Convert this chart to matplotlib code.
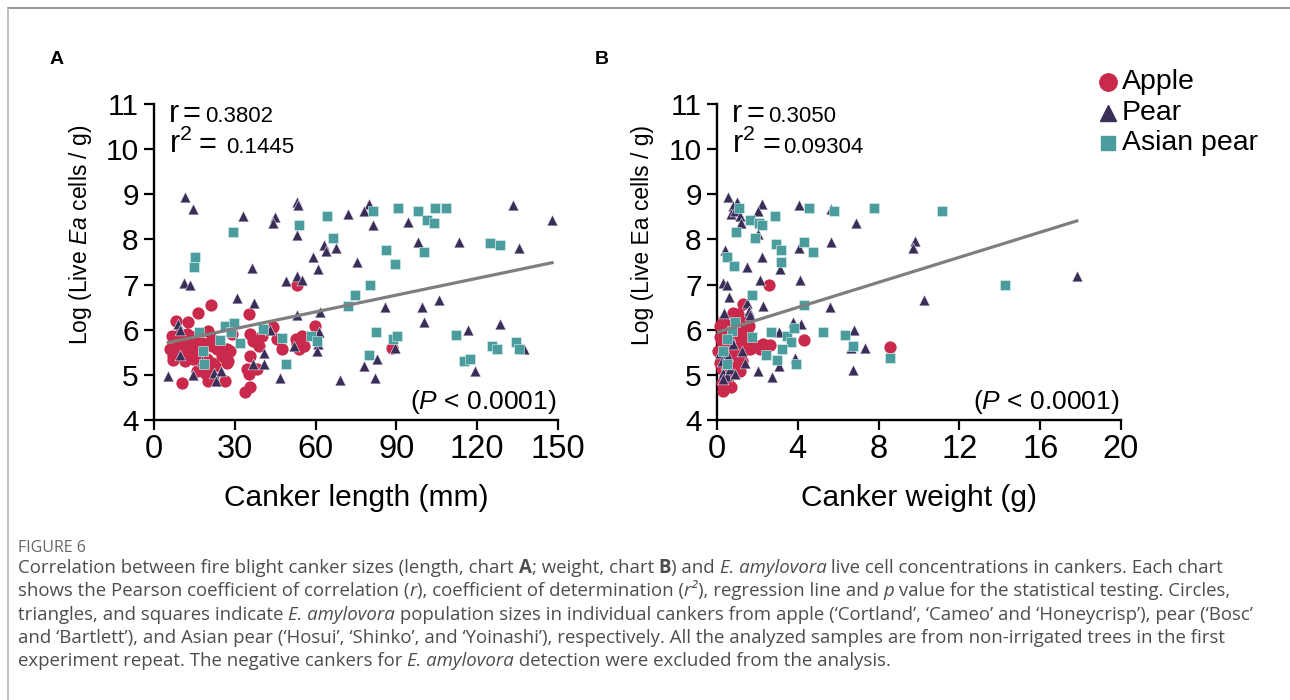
import matplotlib
matplotlib.use("Agg")
import matplotlib.pyplot as plt
from matplotlib.lines import Line2D
from matplotlib.transforms import IdentityTransform
import numpy as np

plt.rcParams['font.family'] = ['Liberation Sans', 'DejaVu Sans']
plt.rcParams['mathtext.fontset'] = 'custom'
plt.rcParams['mathtext.rm'] = 'Liberation Sans'
plt.rcParams['mathtext.it'] = 'Liberation Sans:italic'

# ---- panel A : canker length (mm) vs log live cells ----
apple_len = [21.2, 16.5, 35.4, 8.2, 12.8, 6.8, 12.1, 20.2, 28.9, 35.7, 44.0, 40.0, 36.9, 38.8,
             45.6, 47.5, 52.7, 54.9, 53.0, 55.8, 59.9, 53.9, 27.0, 28.3, 35.7, 27.6, 27.0, 34.4,
             38.2, 35.1, 35.7, 33.8, 10.4, 15.9, 20.2, 21.4, 26.4, 17.7, 14.6, 11.5, 7.2, 6.9,
             20.8, 19.0, 22.7, 8.4, 10.3, 13.4, 15.2, 17.1, 19.0, 21.4, 23.3, 25.2, 10.9, 9.7,
             14.6, 17.1, 21.4, 23.9, 5.9, 9.0, 12.1, 15.9, 19.6, 21.4, 13.4, 53.0, 88.4]
apple_len_log = [6.55, 6.36, 6.34, 6.20, 6.16, 5.86, 5.90, 5.97, 5.90, 5.90, 6.06, 5.86, 5.75, 5.64,
                 5.79, 5.58, 5.79, 5.86, 5.68, 5.63, 6.08, 5.57, 5.58, 5.53, 5.42, 5.31, 5.26, 5.14,
                 5.13, 5.01, 4.72, 4.61, 4.83, 5.09, 4.87, 4.92, 4.87, 5.31, 5.35, 5.31, 5.42, 5.33,
                 5.16, 5.05, 5.20, 5.64, 5.61, 5.61, 5.57, 5.64, 5.68, 5.64, 5.57, 5.42, 5.75, 5.90,
                 5.72, 5.75, 5.79, 5.72, 5.57, 5.53, 5.46, 5.42, 5.35, 5.27, 5.86, 6.99, 5.59]

pear_len = [11.5, 14.4, 33.0, 45.0, 44.0, 53.0, 53.4, 53.0, 72.2, 79.7, 78.1, 81.3, 94.3, 98.0,
            113.4, 133.2, 147.8, 135.4, 63.2, 63.8, 67.7, 59.2, 60.8, 75.3, 36.3, 53.0, 54.9, 48.9,
            11.2, 13.4, 31.0, 37.3, 53.0, 61.7, 85.6, 99.5, 105.7, 100.1, 128.4, 116.5, 9.0, 9.7,
            43.1, 61.1, 52.0, 60.8, 60.7, 89.6, 137.3, 41.0, 9.7, 17.7, 36.6, 41.0, 82.8, 77.8,
            119.3, 5.3, 14.4, 22.1, 24.8, 22.9, 46.6, 69.1, 82.2]
pear_len_log = [8.93, 8.67, 8.52, 8.50, 8.37, 8.82, 8.76, 8.10, 8.57, 8.79, 8.63, 8.31, 8.39, 7.95,
                7.94, 8.76, 8.42, 7.80, 7.87, 7.75, 7.81, 7.61, 7.34, 7.50, 7.37, 7.18, 7.10, 7.08,
                7.03, 6.99, 6.70, 6.59, 6.32, 6.39, 6.51, 6.51, 6.65, 6.16, 6.12, 5.99, 6.12, 6.00,
                5.99, 5.94, 5.64, 5.68, 5.53, 5.59, 5.58, 5.49, 5.44, 5.31, 5.25, 5.24, 5.36, 5.20,
                5.09, 4.98, 5.00, 5.05, 5.09, 4.87, 4.93, 4.89, 4.94]

asian_len = [29.5, 15.2, 14.7, 53.7, 64.2, 66.4, 81.3, 90.5, 98.0, 101.4, 103.8, 104.2, 108.4,
             86.1, 100.1, 89.6, 124.9, 128.6, 80.3, 74.7, 72.0, 16.7, 26.4, 29.7, 28.6, 24.5, 18.3,
             18.7, 32.0, 40.6, 47.5, 49.1, 58.4, 60.5, 82.5, 88.7, 90.2, 79.7, 112.1, 125.5, 127.4,
             115.0, 117.2, 134.4, 135.4]
asian_len_log = [8.17, 7.62, 7.40, 8.32, 8.51, 8.03, 8.62, 8.70, 8.63, 8.43, 8.36, 8.70, 8.70,
                 7.77, 7.72, 7.46, 7.93, 7.87, 6.99, 6.76, 6.53, 5.94, 6.08, 6.14, 5.94, 5.77, 5.53,
                 5.24, 5.70, 6.01, 5.81, 5.24, 5.86, 5.75, 5.96, 5.79, 5.85, 5.44, 5.88, 5.63, 5.57,
                 5.31, 5.35, 5.73, 5.57]

# ---- panel B : canker weight (g) vs log live cells ----
apple_wt = [0.15, 0.40, 0.65, 1.23, 1.47, 1.14, 1.31, 1.47, 1.06, 0.81, 0.65, 0.40, 0.15, 0.89,
            1.23, 0.23, 0.56, 0.81, 1.64, 1.80, 1.97, 2.30, 1.31, 0.98, 0.48, 0.23, 0.31, 0.07,
            0.23, 0.56, 1.14, 1.56, 1.31, 0.81, 0.73, 1.06, 0.40, 0.15, 0.65, 2.55, 4.29, 8.56,
            1.31, 0.81, 1.06, 0.31, 0.31, 0.70, 2.63, 2.14, 1.14]
apple_wt_log = [6.08, 6.01, 6.08, 6.08, 5.94, 5.86, 5.75, 5.68, 5.64, 5.57, 5.46, 5.38, 5.27, 5.31,
                5.31, 5.13, 5.05, 5.20, 5.57, 5.61, 5.64, 5.68, 5.53, 5.46, 5.64, 5.72, 5.86, 5.53,
                4.83, 4.83, 6.08, 6.08, 6.19, 6.12, 5.72, 5.16, 5.20, 5.83, 5.83, 6.99, 5.77, 5.61,
                6.56, 6.38, 6.34, 6.19, 4.65, 4.74, 5.66, 5.57, 5.09]

pear_wt = [0.56, 0.98, 2.25, 4.04, 5.66, 0.78, 0.68, 0.89, 1.14, 1.18, 2.05, 2.14, 2.05, 6.89,
           5.65, 4.07, 9.78, 9.70, 0.40, 2.22, 1.47, 3.10, 0.31, 0.51, 2.14, 4.09, 0.61, 1.47,
           2.30, 1.56, 1.64, 5.61, 10.25, 17.81, 3.76, 4.16, 0.36, 3.08, 6.77, 0.65, 0.78, 6.61,
           7.35, 0.15, 1.39, 3.08, 2.05, 3.87, 2.72, 6.72, 0.31, 0.48, 0.65, 0.89, 0.31, 0.45,
           0.23, 0.56, 1.23]
pear_wt_log = [8.93, 8.82, 8.79, 8.76, 8.67, 8.74, 8.56, 8.63, 8.52, 8.37, 8.63, 8.37, 8.11, 8.37,
               7.94, 7.82, 7.97, 7.80, 7.77, 7.60, 7.38, 7.34, 7.04, 6.99, 7.10, 7.10, 6.73, 6.60,
               6.53, 6.42, 6.32, 6.51, 6.65, 7.18, 6.18, 6.12, 6.37, 5.95, 6.00, 5.86, 5.68, 5.59,
               5.59, 5.49, 5.26, 5.20, 5.09, 5.38, 4.96, 5.10, 5.05, 4.98, 5.13, 5.01, 4.90, 5.24,
               5.31, 5.42, 5.53]

asian_wt = [1.11, 4.57, 5.78, 7.76, 11.16, 1.64, 2.10, 2.22, 2.85, 0.94, 1.89, 2.93, 3.18, 4.32,
            4.75, 0.48, 3.18, 0.86, 1.75, 4.32, 14.27, 0.89, 0.72, 0.51, 1.72, 0.31, 0.48, 2.67,
            3.46, 3.79, 3.68, 3.21, 2.42, 2.96, 3.91, 5.25, 6.36, 6.74, 8.56]
asian_wt_log = [8.70, 8.70, 8.63, 8.70, 8.63, 8.43, 8.37, 8.32, 8.52, 8.17, 8.04, 7.89, 7.77, 7.94,
                7.73, 7.62, 7.49, 7.41, 6.77, 6.55, 6.99, 6.16, 5.97, 5.79, 5.84, 5.53, 5.25, 5.95,
                5.86, 6.03, 5.72, 5.57, 5.44, 5.32, 5.25, 5.96, 5.89, 5.64, 5.37]

# regression lines (slope, intercept) and stats as reported
fit_A = (0.01241, 5.65)
fit_B = (0.1387, 5.94)
stats_A = ('0.3802', '0.1445')
stats_B = ('0.3050', '0.09304')

red = '#C92A4B'
navy = '#3A2E59'
teal = '#4B9C9D'

W, H = 1290, 700
fig = plt.figure(figsize=(W / 100, H / 100), dpi=100)
PIX = IdentityTransform()


def fx(px):
    return px / W


def fy(py):
    return 1 - py / H


def ptext(x, y, s, **kw):
    # text placed in reference pixel coords (origin top-left)
    return fig.text(x, H - y, s, transform=PIX, **kw)


def panel(left_px, xdata, xmax, xstep, xlabel, ylab, stats, fit, letter, letter_x, num2_dx):
    ax = fig.add_axes([fx(left_px), fy(420), fx(404), 316 / H])
    ax.scatter(xdata[0], xdata[1], marker='o', s=78, color=red, linewidths=0, zorder=3, clip_on=False)
    ax.scatter(xdata[2], xdata[3], marker='^', s=60, color=navy, edgecolors='#e8e4ee',
               linewidths=0.4, zorder=3, clip_on=False)
    ax.scatter(xdata[4], xdata[5], marker='s', s=50, color=teal, edgecolors='#dff0f0',
               linewidths=0.4, zorder=3, clip_on=False)
    allx = np.concatenate([xdata[0], xdata[2], xdata[4]])
    xs = np.array([allx.min(), allx.max()])
    ax.plot(xs, fit[0] * xs + fit[1], color='#7f7f7f', lw=2.3, zorder=4)
    ax.set_xlim(0, xmax)
    ax.set_ylim(4, 11)
    ax.set_xticks(np.arange(0, xmax + 0.1, xstep))
    ax.set_yticks(range(4, 12))
    for s in ['top', 'right']:
        ax.spines[s].set_visible(False)
    for s in ['left', 'bottom']:
        ax.spines[s].set_linewidth(1.7)
    ax.tick_params(width=1.6, length=7)
    ax.tick_params(axis='x', labelsize=23.5, pad=3)
    ax.tick_params(axis='y', labelsize=21.5, pad=4)
    ax.set_xlabel(xlabel, fontsize=21.5, labelpad=14)
    ptext(left_px - 74, 235, ylab, fontsize=16.5, rotation=90, ha='center', va='center')

    # correlation stats
    ptext(left_px + 15, 122, 'r', fontsize=22, va='baseline')
    ptext(left_px + 29, 122, '=', fontsize=22, va='baseline')
    ptext(left_px + 51, 122, stats[0], fontsize=16, va='baseline')
    ptext(left_px + 15, 153, r'r$^2$', fontsize=22, va='baseline')
    ptext(left_px + 45, 153, '=', fontsize=22, va='baseline')
    ptext(left_px + num2_dx, 153, stats[1], fontsize=16, va='baseline')
    ptext(left_px + 402, 409, r'($\mathit{P}$ < 0.0001)', fontsize=19, ha='right', va='baseline')

    ptext(letter_x, 60, letter, fontsize=14, fontweight='bold', va='center')
    return ax


axA = panel(154, [apple_len, apple_len_log, pear_len, pear_len_log, asian_len, asian_len_log],
            150, 30, 'Canker length (mm)', r'Log (Live $\mathit{Ea}$ cells / g)',
            stats_A, fit_A, 'A', 50, 72)
axB = panel(717, [apple_wt, apple_wt_log, pear_wt, pear_wt_log, asian_wt, asian_wt_log],
            20, 4, 'Canker weight (g)', 'Log (Live Ea cells / g)',
            stats_B, fit_B, 'B', 595, 66)

# legend
leg_items = [('Apple', 'o', red, 12.5), ('Pear', '^', navy, 11), ('Asian pear', 's', teal, 10)]
for i, (lab, mk, col, ms) in enumerate(leg_items):
    yy = 82 + i * 30.5
    fig.add_artist(Line2D([fx(1108)], [fy(yy)], marker=mk, color=col, markersize=ms,
                          linestyle='none', transform=fig.transFigure))
    ptext(1122, yy, lab, fontsize=20.5, va='center')

# frame lines
fig.add_artist(Line2D([fx(8), 1], [fy(8), fy(8)], color='#9a9a9a', lw=1.5, transform=fig.transFigure))
fig.add_artist(Line2D([fx(8), fx(8)], [fy(8), 0], color='#b5b5b5', lw=1.2, transform=fig.transFigure))

# caption
cap_font = ['Open Sans', 'DejaVu Sans']
cap_col = '#4d4d4d'
ptext(18, 548, 'FIGURE 6', fontsize=11.5, color='#666666', family=cap_font, va='center')

caption = [
    [('Correlation between fire blight canker sizes (length, chart ', ''), ('A', 'b'),
     ('; weight, chart ', ''), ('B', 'b'), (') and ', ''), ('E. amylovora', 'i'),
     (' live cell concentrations in cankers. Each chart', '')],
    [('shows the Pearson coefficient of correlation (', ''), ('r', 'i'),
     ('), coefficient of determination (', ''), ('r\u00b2', 'i'),
     ('), regression line and ', ''), ('p', 'i'),
     (' value for the statistical testing. Circles,', '')],
    [('triangles, and squares indicate ', ''), ('E. amylovora', 'i'),
     (' population sizes in individual cankers from apple (\u2018Cortland\u2019, \u2018Cameo\u2019 and '
      '\u2018Honeycrisp\u2019), pear (\u2018Bosc\u2019', '')],
    [('and \u2018Bartlett\u2019), and Asian pear (\u2018Hosui\u2019, \u2018Shinko\u2019, and '
      '\u2018Yoinashi\u2019), respectively. All the analyzed samples are from non-irrigated trees in the first', '')],
    [('experiment repeat. The negative cankers for ', ''), ('E. amylovora', 'i'),
     (' detection were excluded from the analysis.', '')],
]

renderer = fig.canvas.get_renderer()
for li, parts in enumerate(caption):
    xpx = 18
    ypx = H - (568 + li * 23.3)
    for txt, st in parts:
        t = fig.text(xpx, ypx, txt, transform=PIX, fontsize=13.4, color=cap_col,
                     family=cap_font, va='center',
                     fontstyle='italic' if st == 'i' else 'normal',
                     fontweight='bold' if st == 'b' else 'normal')
        xpx = t.get_window_extent(renderer).x1

fig.savefig('out.png', dpi=100)
